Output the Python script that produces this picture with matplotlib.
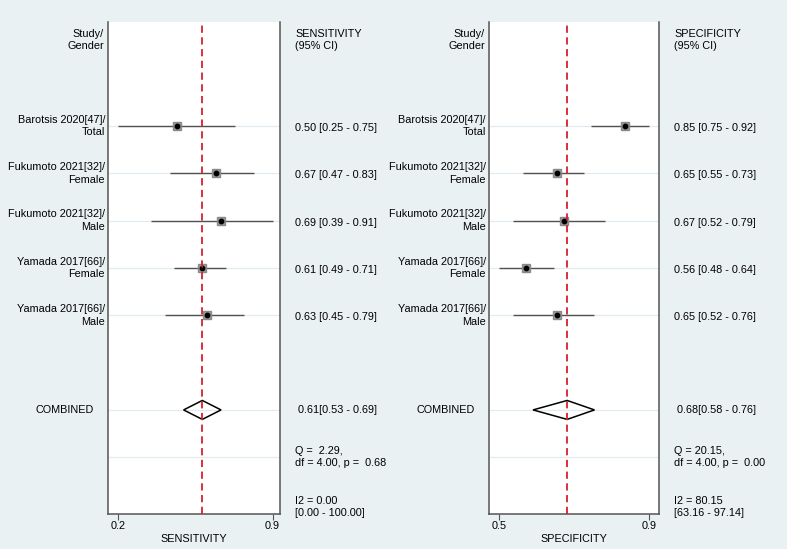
import numpy as np
import matplotlib.pyplot as plt
from matplotlib.ticker import FormatStrFormatter

plt.rcParams['font.family'] = ['Liberation Sans', 'DejaVu Sans']

studies = ["Barotsis 2020[47]/\nTotal", "Fukumoto 2021[32]/\nFemale",
           "Fukumoto 2021[32]/\nMale", "Yamada 2017[66]/\nFemale",
           "Yamada 2017[66]/\nMale"]

sens = [0.50, 0.67, 0.69, 0.61, 0.63]
sens_lo = [0.25, 0.47, 0.39, 0.49, 0.45]
sens_hi = [0.75, 0.83, 0.91, 0.71, 0.79]
sens_pooled = [0.61, 0.53, 0.69]
sens_q = "Q =  2.29,\ndf = 4.00, p =  0.68"
sens_i2 = "I2 = 0.00\n[0.00 - 100.00]"

spec = [0.85, 0.65, 0.67, 0.56, 0.65]
spec_lo = [0.75, 0.55, 0.52, 0.48, 0.52]
spec_hi = [0.92, 0.73, 0.79, 0.64, 0.76]
spec_pooled = [0.68, 0.58, 0.76]
spec_q = "Q = 20.15,\ndf = 4.00, p =  0.00"
spec_i2 = "I2 = 80.15\n[63.16 - 97.14]"

bg = '#e9f1f3'
fs = 7.8


def draw_panel(ax, est, lo, hi, pooled, qtxt, i2txt, name, xlim):
    rows = np.arange(len(est))
    comb_row = len(est) + 1
    q_row = comb_row + 1
    i2_row = q_row + 1.05

    ax.set_facecolor('white')
    for r in list(rows) + [comb_row, q_row]:
        ax.axhline(r, color='#e2ebf0', lw=0.9, zorder=1)

    ax.hlines(rows, lo, hi, color='#505050', lw=1.0, zorder=2)
    ax.plot(est, rows, 's', ms=5.5, mfc='#9a9a9a', mec='#8a8a8a', zorder=3)
    ax.plot(est, rows, 'o', ms=3.2, color='black', zorder=4)

    p, plo, phi = pooled
    dh = 0.2
    ax.fill([plo, p, phi, p, plo], [comb_row, comb_row - dh, comb_row, comb_row + dh, comb_row],
            fill=False, ec='black', lw=1.1, zorder=3)
    ax.axvline(p, color='#d5202f', lw=1.3, ls=(0, (4, 2.5)), zorder=5)

    ax.set_xlim(*xlim)
    ax.set_ylim(8.2, -2.2)
    ax.set_yticks([])
    ax.set_xticks([min(lo), max(hi)])
    ax.xaxis.set_major_formatter(FormatStrFormatter('%.1f'))
    ax.tick_params(axis='x', length=4, width=0.8, color='#555555', labelsize=fs, pad=1)
    ax.set_xlabel(name, fontsize=fs, labelpad=2)
    ax.spines['top'].set_visible(False)
    for s in ['left', 'right', 'bottom']:
        ax.spines[s].set_color('#555555')
        ax.spines[s].set_linewidth(1.1)

    lab = dict(xycoords=('axes fraction', 'data'), textcoords='offset pixels', fontsize=fs,
               va='center', linespacing=1.3)
    ax.annotate("Study/\nGender", xy=(0, -1.82), xytext=(-4, 0), ha='right', **lab)
    ax.annotate(name + "\n(95% CI)", xy=(1, -1.82), xytext=(15, 0), ha='left', **lab)
    for r, s, e, l, h in zip(rows, studies, est, lo, hi):
        ax.annotate(s, xy=(0, r), xytext=(-3, 0), ha='right', **lab)
        ax.annotate(f"{e:.2f} [{l:.2f} - {h:.2f}]", xy=(1, r), xytext=(15, -2), ha='left', **lab)
    ax.annotate("COMBINED", xy=(0, comb_row), xytext=(-14, 0), ha='right', **lab)
    ax.annotate(f"{p:.2f}[{plo:.2f} - {phi:.2f}]", xy=(1, comb_row), xytext=(18, 0), ha='left', **lab)
    ax.annotate(qtxt, xy=(1, q_row), xytext=(15, 0), ha='left', **lab)
    ax.annotate(i2txt, xy=(1, i2_row), xytext=(15, 0), ha='left', **lab)


fig = plt.figure(figsize=(7.87, 5.49), dpi=100, facecolor=bg)
ax1 = fig.add_axes([108 / 787, 1 - 514 / 549, 172 / 787, 492 / 549])
ax2 = fig.add_axes([489 / 787, 1 - 514 / 549, 170 / 787, 492 / 549])

draw_panel(ax1, sens, sens_lo, sens_hi, sens_pooled, sens_q, sens_i2, "SENSITIVITY", (0.207, 0.942))
draw_panel(ax2, spec, spec_lo, spec_hi, spec_pooled, spec_q, spec_i2, "SPECIFICITY", (0.451, 0.949))

fig.savefig('out.png', dpi=100, facecolor=bg)
